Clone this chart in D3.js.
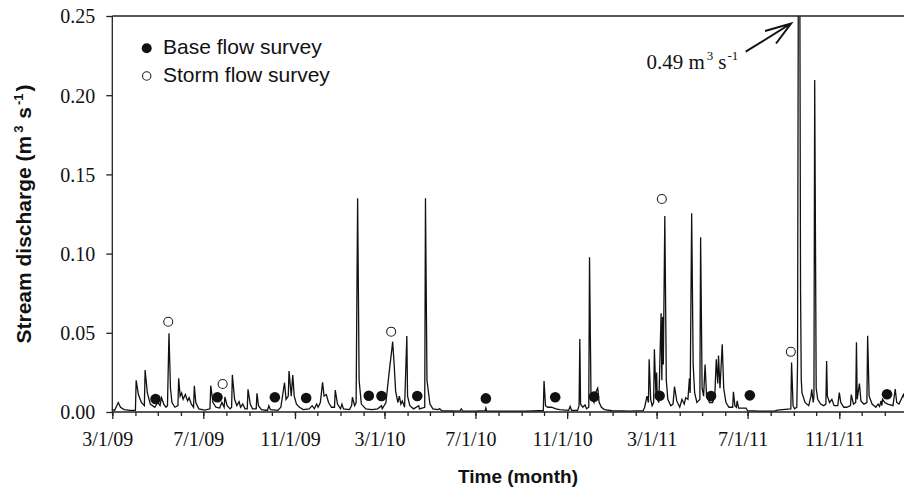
<!DOCTYPE html>
<html>
<head>
<meta charset="utf-8">
<script src="https://cdn.jsdelivr.net/npm/d3@7"></script>
<style>
  html, body { margin: 0; padding: 0; background: #fff; }
  svg { display: block; }
</style>
</head>
<body>
<svg id="chart" width="904" height="500"></svg>
<script>
// ---------------- DATA ----------------
const xTickLabels = ["3/1/09","7/1/09","11/1/09","3/1/10","7/1/10","11/1/10","3/1/11","7/1/11","11/1/11"];
const yTicks = [0, 0.05, 0.10, 0.15, 0.20, 0.25];
const xDomain = ["2009-03-01", "2012-02-01"];
const yDomain = [0, 0.25];

// Stream discharge hydrograph (date, m3/s)
const flowSeries = [
  ["2009-03-01",0.0015],["2009-03-04",0.001],["2009-03-09",0.006],["2009-03-12",0.003],["2009-03-17",0.0015],
  ["2009-03-25",0.001],["2009-04-01",0.001],["2009-04-02",0.020],["2009-04-05",0.011],["2009-04-09",0.006],
  ["2009-04-13",0.004],["2009-04-14",0.0265],["2009-04-17",0.012],["2009-04-21",0.005],["2009-04-27",0.003],
  ["2009-05-01",0.006],["2009-05-04",0.004],["2009-05-06",0.009],["2009-05-09",0.005],["2009-05-12",0.003],
  ["2009-05-14",0.004],["2009-05-16",0.0497],["2009-05-18",0.015],["2009-05-20",0.006],["2009-05-24",0.003],
  ["2009-05-28",0.004],["2009-05-29",0.0213],["2009-05-31",0.010],["2009-06-02",0.012],["2009-06-04",0.008],
  ["2009-06-07",0.011],["2009-06-10",0.007],["2009-06-12",0.009],["2009-06-15",0.005],["2009-06-18",0.003],
  ["2009-06-19",0.0166],["2009-06-21",0.006],["2009-06-25",0.002],["2009-07-03",0.0012],["2009-07-10",0.002],
  ["2009-07-11",0.0166],["2009-07-14",0.006],["2009-07-18",0.003],["2009-07-23",0.0025],["2009-07-26",0.006],
  ["2009-07-29",0.003],["2009-07-30",0.0095],["2009-08-02",0.004],["2009-08-06",0.002],["2009-08-08",0.003],
  ["2009-08-09",0.0234],["2009-08-12",0.008],["2009-08-15",0.004],["2009-08-18",0.0065],["2009-08-20",0.003],
  ["2009-08-23",0.005],["2009-08-26",0.002],["2009-08-29",0.002],["2009-08-30",0.0143],["2009-09-02",0.005],
  ["2009-09-05",0.002],["2009-09-10",0.002],["2009-09-11",0.0118],["2009-09-13",0.004],["2009-09-17",0.0015],
  ["2009-09-25",0.001],["2009-09-27",0.004],["2009-09-29",0.0015],["2009-10-09",0.001],["2009-10-13",0.003],
  ["2009-10-18",0.0185],["2009-10-20",0.008],["2009-10-23",0.010],["2009-10-24",0.0259],["2009-10-27",0.010],
  ["2009-10-29",0.0234],["2009-10-31",0.010],["2009-11-03",0.005],["2009-11-07",0.003],["2009-11-12",0.0015],
  ["2009-11-20",0.002],["2009-11-24",0.004],["2009-11-27",0.002],["2009-11-30",0.005],["2009-12-02",0.003],
  ["2009-12-05",0.006],["2009-12-08",0.0187],["2009-12-10",0.010],["2009-12-13",0.011],["2009-12-16",0.006],
  ["2009-12-20",0.003],["2009-12-24",0.003],["2009-12-25",0.0139],["2009-12-28",0.005],["2010-01-01",0.002],
  ["2010-01-03",0.005],["2010-01-05",0.002],["2010-01-13",0.0015],["2010-01-16",0.004],["2010-01-17",0.0093],
  ["2010-01-20",0.004],["2010-01-22",0.006],["2010-01-24",0.135],["2010-01-26",0.020],["2010-01-29",0.005],
  ["2010-02-04",0.002],["2010-02-12",0.0015],["2010-02-20",0.002],["2010-02-25",0.004],["2010-02-26",0.002],
  ["2010-03-03",0.006],["2010-03-05",0.015],["2010-03-08",0.028],["2010-03-11",0.040],["2010-03-12",0.0444],
  ["2010-03-14",0.030],["2010-03-16",0.013],["2010-03-19",0.006],["2010-03-21",0.010],["2010-03-23",0.005],
  ["2010-03-25",0.007],["2010-03-28",0.003],["2010-03-31",0.048],["2010-04-01",0.010],["2010-04-04",0.004],
  ["2010-04-09",0.002],["2010-04-16",0.004],["2010-04-17",0.002],["2010-04-24",0.003],["2010-04-25",0.135],
  ["2010-04-27",0.020],["2010-05-01",0.005],["2010-05-05",0.002],["2010-05-11",0.0015],["2010-05-14",0.002],
  ["2010-05-17",0.0008],["2010-06-10",0.0006],["2010-06-12",0.002],["2010-06-14",0.0006],["2010-06-30",0.0006],
  ["2010-07-14",0.0009],["2010-07-15",0.0025],["2010-07-16",0.0006],["2010-08-16",0.0006],["2010-09-05",0.0006],
  ["2010-09-25",0.0008],["2010-09-30",0.0008],["2010-10-01",0.0196],["2010-10-03",0.004],["2010-10-06",0.003],
  ["2010-10-11",0.003],["2010-10-17",0.002],["2010-10-22",0.0015],["2010-11-03",0.001],["2010-11-05",0.0035],
  ["2010-11-07",0.001],["2010-11-15",0.001],["2010-11-17",0.004],["2010-11-18",0.0461],["2010-11-19",0.005],
  ["2010-11-22",0.003],["2010-11-25",0.0045],["2010-11-27",0.002],["2010-11-30",0.003],["2010-12-01",0.0977],
  ["2010-12-03",0.010],["2010-12-07",0.006],["2010-12-09",0.012],["2010-12-12",0.015],["2010-12-14",0.006],
  ["2010-12-17",0.003],["2010-12-21",0.0015],["2010-12-31",0.0008],["2011-01-24",0.0006],["2011-02-11",0.0008],
  ["2011-02-13",0.003],["2011-02-16",0.010],["2011-02-18",0.006],["2011-02-19",0.0333],["2011-02-21",0.008],
  ["2011-02-23",0.004],["2011-02-25",0.006],["2011-02-26",0.0396],["2011-02-28",0.012],["2011-03-01",0.025],
  ["2011-03-02",0.008],["2011-03-04",0.006],["2011-03-07",0.0623],["2011-03-08",0.020],["2011-03-09",0.060],
  ["2011-03-10",0.030],["2011-03-12",0.1237],["2011-03-14",0.020],["2011-03-16",0.008],["2011-03-20",0.004],
  ["2011-03-23",0.005],["2011-03-25",0.016],["2011-03-28",0.007],["2011-04-01",0.003],["2011-04-04",0.008],
  ["2011-04-07",0.005],["2011-04-09",0.009],["2011-04-12",0.008],["2011-04-14",0.0213],["2011-04-15",0.012],
  ["2011-04-17",0.1254],["2011-04-19",0.030],["2011-04-21",0.012],["2011-04-24",0.006],["2011-04-28",0.008],
  ["2011-04-29",0.1103],["2011-05-01",0.015],["2011-05-03",0.010],["2011-05-05",0.030],["2011-05-07",0.010],
  ["2011-05-11",0.006],["2011-05-15",0.006],["2011-05-18",0.010],["2011-05-20",0.0333],["2011-05-22",0.018],
  ["2011-05-23",0.0356],["2011-05-25",0.015],["2011-05-28",0.0427],["2011-05-30",0.015],["2011-06-02",0.006],
  ["2011-06-06",0.003],["2011-06-11",0.003],["2011-06-12",0.0128],["2011-06-14",0.004],["2011-06-16",0.003],
  ["2011-06-17",0.007],["2011-06-19",0.0025],["2011-06-29",0.0025],["2011-07-01",0.0008],["2011-07-17",0.0006],
  ["2011-08-06",0.0006],["2011-08-10",0.0012],["2011-08-24",0.0018],["2011-08-28",0.002],["2011-08-29",0.0313],
  ["2011-08-31",0.004],["2011-09-02",0.002],["2011-09-05",0.003],["2011-09-06",0.030],["2011-09-08",0.49],
  ["2011-09-10",0.078],["2011-09-11",0.02],["2011-09-12",0.012],["2011-09-16",0.006],["2011-09-21",0.004],
  ["2011-09-24",0.010],["2011-09-25",0.0143],["2011-09-27",0.006],["2011-09-28",0.010],["2011-09-29",0.2096],
  ["2011-10-01",0.015],["2011-10-03",0.008],["2011-10-07",0.005],["2011-10-11",0.004],["2011-10-14",0.005],
  ["2011-10-15",0.0322],["2011-10-16",0.010],["2011-10-19",0.006],["2011-10-22",0.008],["2011-10-25",0.004],
  ["2011-10-30",0.004],["2011-11-01",0.0122],["2011-11-03",0.006],["2011-11-07",0.003],["2011-11-11",0.003],
  ["2011-11-16",0.004],["2011-11-17",0.011],["2011-11-20",0.005],["2011-11-23",0.006],["2011-11-24",0.044],
  ["2011-11-25",0.008],["2011-11-28",0.018],["2011-11-30",0.007],["2011-12-04",0.005],["2011-12-08",0.006],
  ["2011-12-09",0.0482],["2011-12-11",0.010],["2011-12-15",0.005],["2011-12-20",0.003],["2011-12-23",0.005],
  ["2011-12-25",0.0035],["2011-12-27",0.007],["2011-12-28",0.004],["2011-12-29",0.008],["2012-01-01",0.006],
  ["2012-01-05",0.005],["2012-01-12",0.004],["2012-01-15",0.0145],["2012-01-17",0.006],["2012-01-20",0.005],
  ["2012-01-26",0.011],["2012-01-30",0.005]
];

// Survey points
const baseSurvey = [
  ["2009-04-28",0.0082],["2009-07-20",0.0093],["2009-10-05",0.0093],["2009-11-16",0.0088],
  ["2010-02-08",0.0103],["2010-02-25",0.0101],["2010-04-14",0.0101],["2010-07-15",0.0086],
  ["2010-10-16",0.0093],["2010-12-07",0.0097],["2011-03-05",0.0103],["2011-05-13",0.0101],
  ["2011-07-04",0.0105],["2012-01-04",0.0112]
];
const stormSurvey = [
  ["2009-05-15",0.057],["2009-07-27",0.0177],["2010-03-10",0.0507],["2011-03-08",0.1345],["2011-08-28",0.038]
];

const legendLabels = ["Base flow survey", "Storm flow survey"];
const peakNote = {date: "2011-09-08", value: 0.49};

// ---------------- CHART ----------------
const parse = d3.utcParse("%Y-%m-%d");
const parseTick = d3.utcParse("%m/%d/%y");
const svg = d3.select("#chart");
const pLeft = 112.3, pTop = 16, pBottom = 412, pRight = 907.9;

const x = d3.scaleUtc().domain(xDomain.map(parse)).range([pLeft, pRight]);
const y = d3.scaleLinear().domain(yDomain).range([pBottom, pTop]);

const serif = "'Liberation Serif','Times New Roman',Times,serif";
const sans = "'Liberation Sans',Arial,Helvetica,sans-serif";

svg.append("defs").append("clipPath").attr("id", "plotclip")
  .append("rect").attr("x", pLeft).attr("y", pTop).attr("width", pRight - pLeft + 2).attr("height", pBottom - pTop);

// hydrograph
const line = d3.line().x(d => x(parse(d[0]))).y(d => y(d[1]));
svg.append("path")
  .datum(flowSeries)
  .attr("clip-path", "url(#plotclip)")
  .attr("fill", "none")
  .attr("stroke", "#111")
  .attr("stroke-width", 1.3)
  .attr("stroke-linejoin", "miter")
  .attr("d", line);

// frame: top line
svg.append("line").attr("x1", pLeft).attr("x2", 904).attr("y1", pTop).attr("y2", pTop)
  .attr("stroke", "#222").attr("stroke-width", 1.3);

// x axis minor ticks (monthly)
const xMinor = d3.axisBottom(x).ticks(d3.utcMonth.every(1)).tickSize(4).tickFormat("");
const gxMin = svg.append("g").attr("transform", `translate(0,${pBottom})`).call(xMinor);
gxMin.select(".domain").remove();
gxMin.selectAll("line").attr("stroke", "#222").attr("stroke-width", 1.3);

// x axis major ticks
const majorDates = xTickLabels.map(parseTick);
const xMajor = d3.axisBottom(x).tickValues(majorDates).tickSize(7)
  .tickFormat((d, i) => xTickLabels[i]);
const gx = svg.append("g").attr("transform", `translate(0,${pBottom})`).call(xMajor);
gx.select(".domain").attr("stroke", "#222").attr("stroke-width", 1.3).attr("d", `M${pLeft},0H904`);
gx.selectAll("line").attr("stroke", "#222").attr("stroke-width", 1.3);
gx.selectAll("text").attr("font-family", serif).attr("font-size", 20).attr("fill", "#111")
  .attr("y", 20).attr("dy", "0.71em").attr("dx", -5);

// y axis
const yAxis = d3.axisLeft(y).tickValues(yTicks).tickSize(6).tickPadding(11).tickFormat(d3.format(".2f"));
const gy = svg.append("g").attr("transform", `translate(${pLeft},0)`).call(yAxis);
gy.select(".domain").attr("stroke", "#222").attr("stroke-width", 1.3).attr("d", `M0,${pBottom}V${pTop}`);
gy.selectAll("line").attr("stroke", "#222").attr("stroke-width", 1.3);
gy.selectAll("text").attr("font-family", serif).attr("font-size", 20).attr("fill", "#111").attr("dy", "0.34em");

// survey points
svg.append("g").selectAll("circle").data(baseSurvey).join("circle")
  .attr("cx", d => x(parse(d[0]))).attr("cy", d => y(d[1])).attr("r", 5.3)
  .attr("fill", "#111");
svg.append("g").selectAll("circle").data(stormSurvey).join("circle")
  .attr("cx", d => x(parse(d[0]))).attr("cy", d => y(d[1])).attr("r", 4.5)
  .attr("fill", "#fff").attr("stroke", "#222").attr("stroke-width", 1.1);

// legend
const lg = svg.append("g").attr("font-family", sans).attr("font-size", 21).attr("fill", "#111");
lg.append("circle").attr("cx", 146.7).attr("cy", 48.3).attr("r", 5).attr("fill", "#111");
lg.append("text").attr("x", 163).attr("y", 53.5).text(legendLabels[0]);
lg.append("circle").attr("cx", 146.7).attr("cy", 76).attr("r", 4.2).attr("fill", "#fff")
  .attr("stroke", "#222").attr("stroke-width", 1.1);
lg.append("text").attr("x", 163).attr("y", 81.7).text(legendLabels[1]);

// axis titles
svg.append("text").attr("x", 518).attr("y", 483).attr("text-anchor", "middle")
  .attr("font-family", sans).attr("font-weight", "bold").attr("font-size", 19).attr("fill", "#111")
  .text("Time (month)");

const yt = svg.append("text").attr("transform", "translate(31,214) rotate(-90)").attr("text-anchor", "middle")
  .attr("font-family", sans).attr("font-weight", "bold").attr("font-size", 21).attr("fill", "#111");
yt.append("tspan").text("Stream discharge (m");
yt.append("tspan").attr("dy", -8).attr("font-size", 13).attr("dx", 3).text("3");
yt.append("tspan").attr("dy", 8).attr("dx", 1).text(" s");
yt.append("tspan").attr("dy", -8).attr("font-size", 13).attr("dx", 2).text("-1");
yt.append("tspan").attr("dy", 8).attr("dx", 2).text(")");

// peak annotation
const peakX = x(parse(peakNote.date));
const note = svg.append("text").attr("x", 646.5).attr("y", 68.5)
  .attr("font-family", serif).attr("font-size", 21).attr("fill", "#111");
note.append("tspan").text(d3.format(".2f")(peakNote.value) + " m");
note.append("tspan").attr("dy", -9).attr("font-size", 13).attr("dx", 2).text("3");
note.append("tspan").attr("dy", 9).attr("dx", 5).text("s");
note.append("tspan").attr("dy", -9).attr("font-size", 13).attr("dx", 1).text("-1");

const tip = [peakX - 8, pTop + 7.5];
const tail = [745.7, 51.7];
svg.append("path")
  .attr("d", `M${tail[0]},${tail[1]}L${tip[0]},${tip[1]}M${tip[0]-26},${tip[1]+7.5}L${tip[0]},${tip[1]}L${tip[0]-15},${tip[1]+20}`)
  .attr("fill", "none").attr("stroke", "#111").attr("stroke-width", 2).attr("stroke-linejoin", "miter");
</script>
</body>
</html>
